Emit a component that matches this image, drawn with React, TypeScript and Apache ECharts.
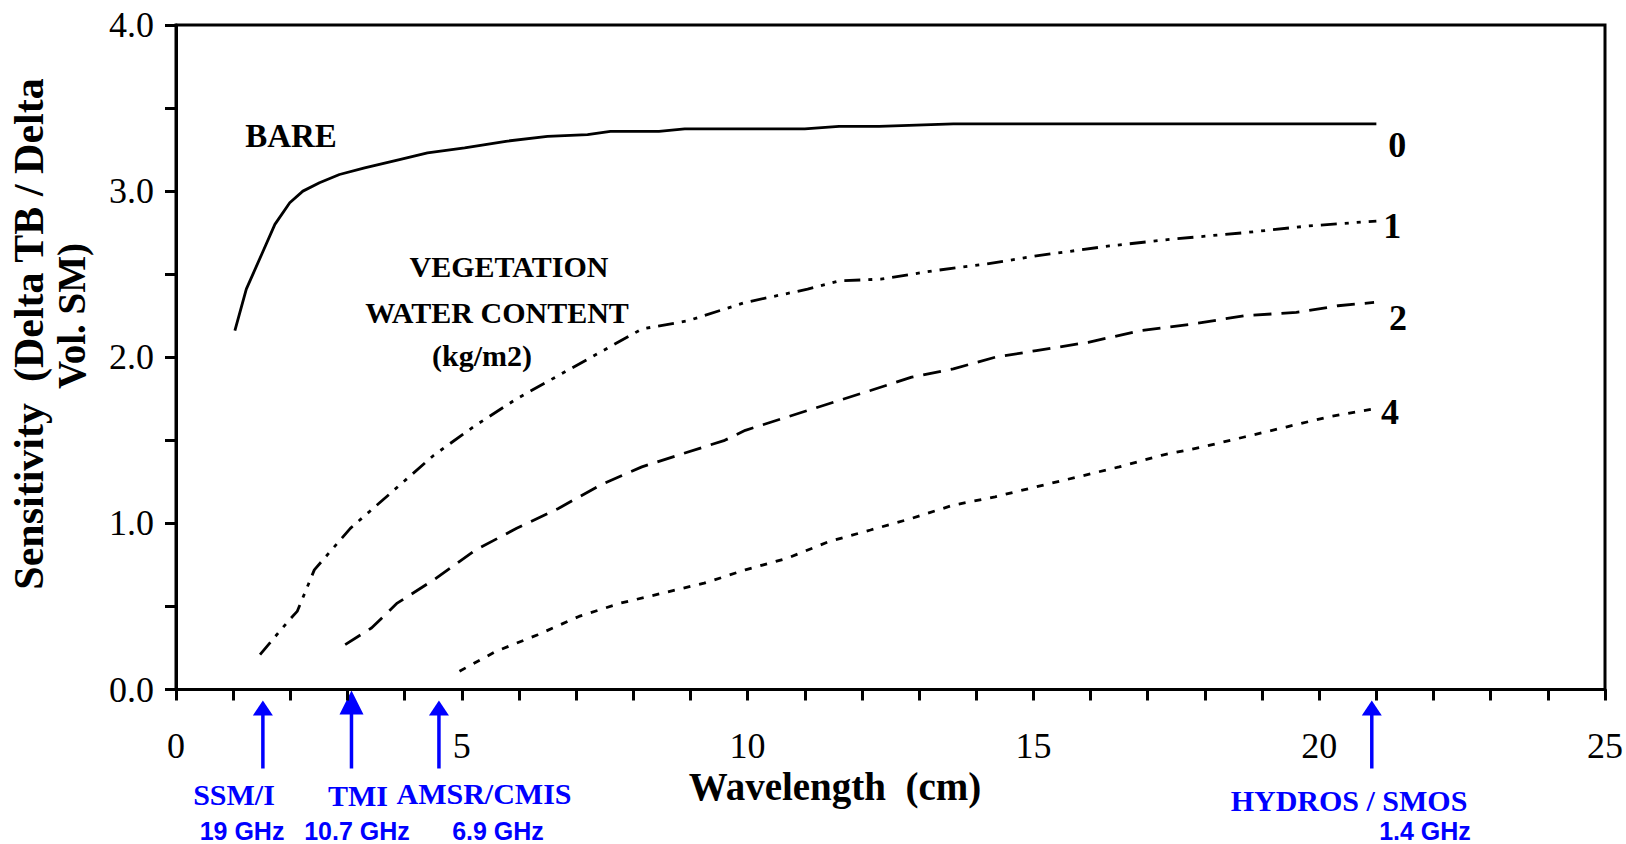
import React, { useEffect, useRef } from "react";
import * as echarts from "echarts";

// ---- data (wavelength cm, sensitivity) ----
const bare: number[][] = [
  [1.03, 2.16], [1.23, 2.41], [1.5, 2.62], [1.73, 2.8], [1.99, 2.93], [2.22, 3.0],
  [2.51, 3.05], [2.86, 3.1], [3.3, 3.14], [3.91, 3.19], [4.4, 3.23], [5.05, 3.26],
  [5.77, 3.3], [6.5, 3.33], [7.2, 3.34], [7.6, 3.36], [8.45, 3.36], [8.9, 3.375],
  [11.0, 3.375], [11.6, 3.39], [12.3, 3.39], [13.6, 3.405], [21.0, 3.405],
];
const vwc1: number[][] = [
  [1.47, 0.21], [1.96, 0.41], [2.12, 0.47], [2.42, 0.72], [3.05, 0.97], [3.78, 1.19],
  [4.51, 1.41], [5.24, 1.59], [5.96, 1.75], [6.69, 1.89], [7.42, 2.03], [8.15, 2.17],
  [8.96, 2.22], [9.96, 2.33], [11.05, 2.41], [11.6, 2.46], [12.33, 2.47], [13.24, 2.52],
  [14.15, 2.56], [15.05, 2.61], [16.33, 2.67], [17.4, 2.71], [18.7, 2.75], [19.8, 2.79],
  [21.0, 2.82],
];
const vwc2: number[][] = [
  [2.96, 0.27], [3.42, 0.37], [3.87, 0.52], [4.51, 0.66], [5.24, 0.84], [5.96, 0.97],
  [6.69, 1.09], [7.42, 1.23], [8.15, 1.34], [8.87, 1.42], [9.6, 1.5], [9.96, 1.56],
  [10.69, 1.64], [11.42, 1.72], [12.15, 1.8], [12.87, 1.88], [13.6, 1.93], [14.33, 2.0],
  [15.05, 2.04], [15.96, 2.09], [16.87, 2.16], [17.78, 2.2], [18.69, 2.25], [19.6, 2.27],
  [20.33, 2.31], [20.96, 2.33],
];
const vwc4: number[][] = [
  [4.96, 0.11], [5.6, 0.23], [6.33, 0.33], [7.05, 0.44], [7.78, 0.52], [8.51, 0.58],
  [9.24, 0.64], [9.96, 0.72], [10.69, 0.79], [11.42, 0.89], [12.15, 0.96], [12.87, 1.03],
  [13.6, 1.11], [14.33, 1.16], [15.05, 1.22], [15.78, 1.28], [16.5, 1.34], [17.24, 1.41],
  [17.96, 1.46], [18.69, 1.52], [19.42, 1.58], [20.15, 1.64], [20.96, 1.69],
];
const curveTags = ["0", "1", "2", "4"];
const sensorWavelengths = [1.52, 3.07, 4.6, 20.92];
const sensorNames = ["SSM/I", "TMI", "AMSR/CMIS", "HYDROS / SMOS"];
const sensorFreqs = ["19 GHz", "10.7 GHz", "6.9 GHz", "1.4 GHz"];

// ---- layout (pixels) ----
const SERIF = '"Liberation Serif", "Times New Roman", serif';
const SANS = '"Liberation Sans", Arial, sans-serif';
const BLUE = "#0000FF";
const nameLayout = [
  { x: 234, y: 794 }, { x: 358, y: 795 }, { x: 484, y: 793 }, { x: 1349, y: 800 },
];
const freqLayout = [
  { x: 242, y: 831 }, { x: 357, y: 831 }, { x: 498, y: 831 }, { x: 1425, y: 831 },
];
const endLabelLayout = [
  { distance: 12, dy: 21 }, { distance: 7, dy: 5 }, { distance: 15, dy: 16 }, { distance: 7, dy: 3 },
];

export default function App() {
  const ref = useRef<HTMLDivElement>(null);
  useEffect(() => {
    if (!ref.current) return;
    const chart = echarts.init(ref.current, null, { renderer: "svg" });
    const lineTypes: any[] = ["solid", [16, 8, 4, 8, 4, 8], [18, 10], [7, 9]];
    const datasets = [bare, vwc1, vwc2, vwc4];
    const series = datasets.map((d, i) => ({
      type: "line",
      name: curveTags[i],
      data: d,
      symbol: "none",
      smooth: false,
      lineStyle: { color: "#000", width: 2.8, type: lineTypes[i], cap: "butt" },
      endLabel: {
        show: true,
        formatter: curveTags[i],
        distance: endLabelLayout[i].distance,
        offset: [0, endLabelLayout[i].dy],
        color: "#000",
        fontSize: 36,
        fontWeight: "bold",
        fontFamily: SERIF,
      },
    }));
    chart.setOption({
      animation: false,
      backgroundColor: "#fff",
      grid: {
        left: 176, right: 18.5, top: 25, bottom: 154.5,
        show: true, borderColor: "#000", borderWidth: 3, backgroundColor: "transparent",
      },
      xAxis: {
        type: "value", min: 0, max: 25, interval: 1,
        axisLine: { show: true, onZero: false, lineStyle: { color: "#000", width: 3 } },
        axisTick: { show: true, inside: false, length: 11, lineStyle: { color: "#000", width: 3 } },
        splitLine: { show: false },
        axisLabel: {
          color: "#000", fontSize: 36, fontFamily: SERIF, margin: 38,
          formatter: (v: number) => (v % 5 === 0 ? String(v) : ""),
        },
      },
      yAxis: {
        type: "value", min: 0, max: 4, interval: 0.5,
        axisLine: { show: true, lineStyle: { color: "#000", width: 3 } },
        axisTick: { show: true, inside: false, length: 11, lineStyle: { color: "#000", width: 3 } },
        splitLine: { show: false },
        axisLabel: {
          color: "#000", fontSize: 36, fontFamily: SERIF, margin: 22,
          formatter: (v: number) => (Number.isInteger(v) ? v.toFixed(1) : ""),
        },
      },
      series,
    });

    const txt = (text: string, x: number, y: number, size: number, opts: any = {}) => ({
      type: "text",
      x, y,
      rotation: opts.rotation || 0,
      style: {
        text,
        fill: opts.fill || "#000",
        fontSize: size,
        fontWeight: opts.weight || "bold",
        fontFamily: opts.family || SERIF,
        align: "center",
        verticalAlign: "middle",
      },
    });

    const graphics: any[] = [
      txt("BARE", 291, 136, 33),
      txt("VEGETATION", 509, 266, 30),
      txt("WATER CONTENT", 497, 312, 30),
      txt("(kg/m2)", 482, 355, 30),
      txt("Wavelength  (cm)", 835, 786, 39),
      txt("Sensitivity  (Delta TB / Delta", 29, 334, 42, { rotation: Math.PI / 2 }),
      txt("Vol. SM)", 71, 316, 39, { rotation: Math.PI / 2 }),
    ];
    const axisY = chart.convertToPixel({ yAxisIndex: 0 }, 0) as number;
    sensorWavelengths.forEach((w, i) => {
      const px = chart.convertToPixel({ xAxisIndex: 0 }, w) as number;
      const big = i === 1;
      const tip = big ? axisY + 1 : axisY + 11;
      const headH = big ? 24 : 15;
      const headW = big ? 24 : 20;
      const bottom = axisY + 79;
      graphics.push({
        type: "line",
        shape: { x1: px, y1: tip + headH - 1, x2: px, y2: bottom },
        style: { stroke: BLUE, lineWidth: 3.5 },
      });
      graphics.push({
        type: "polygon",
        shape: { points: [[px, tip], [px - headW / 2, tip + headH], [px + headW / 2, tip + headH]] },
        style: { fill: BLUE },
      });
      graphics.push(txt(sensorNames[i], nameLayout[i].x, nameLayout[i].y, 30, { fill: BLUE }));
      graphics.push(txt(sensorFreqs[i], freqLayout[i].x, freqLayout[i].y, 25, { fill: BLUE, family: SANS }));
    });
    chart.setOption({ graphic: graphics });

    return () => chart.dispose();
  }, []);
  return (
    <div
      ref={ref}
      style={{ position: "absolute", left: 0, top: 0, width: 1626, height: 844, background: "#fff" }}
    />
  );
}
